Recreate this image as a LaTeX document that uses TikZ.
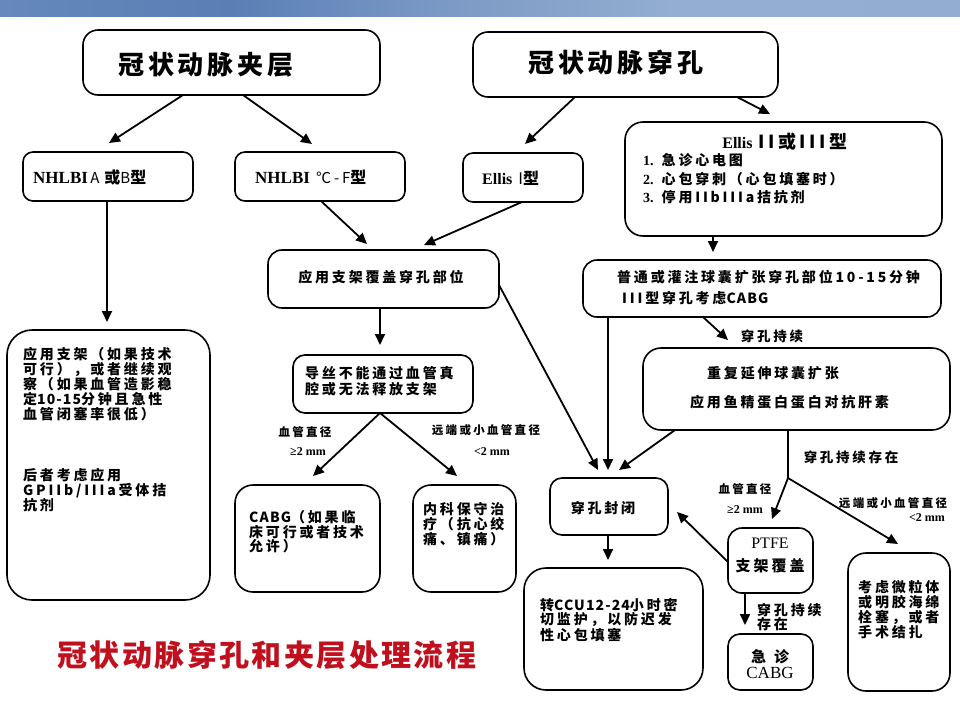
\documentclass[tikz,border=0pt]{standalone}
\usepackage{fontspec}
\usetikzlibrary{arrows.meta}
\newfontfamily\cjk[LetterSpace=20]{Noto Sans CJK SC}
\newfontfamily\cjkm[LetterSpace=15]{Noto Sans CJK SC}
\newfontfamily\cjkt[LetterSpace=8]{Noto Sans CJK SC}
\newfontfamily\ser{Liberation Serif}
\newcommand\fsz[1]{\fontsize{#1}{#1}\selectfont}
\newcommand\lt[1]{{\addfontfeature{LetterSpace=8}#1}}
\definecolor{titlered}{HTML}{C0101E}
\definecolor{bnA}{HTML}{C8D5E6}
\definecolor{bnB}{HTML}{B0C2DB}
\definecolor{bnC}{HTML}{7090BF}
\definecolor{bnD}{HTML}{5A7FB5}
\definecolor{bnE}{HTML}{7B99C5}
\definecolor{bnF}{HTML}{93AED0}
\definecolor{bnG}{HTML}{92ADD0}
\definecolor{bnH}{HTML}{85A2CA}
\pgfdeclarehorizontalshading{banner}{100bp}{color(0bp)=(bnA); color(5bp)=(bnB); color(15bp)=(bnC); color(37bp)=(bnD); color(48bp)=(bnE); color(60bp)=(bnF); color(80bp)=(bnG); color(100bp)=(bnH)}
\newcommand\mkbox[6][12]{\node[boxst, rounded corners=#1pt, minimum width={(#5-#3)*1pt}, minimum height={(#6-#4)*1pt}] (#2) at ({(#3+#5)/2},{(#4+#6)/2}) {};}
\tikzset{
  boxst/.style={draw=black, line width=1.6pt, inner sep=0pt, outer sep=0pt, fill=white},
  arr/.style={line width=1.8pt, -{Triangle[length=11pt,width=10pt]}},
  plain/.style={line width=1.8pt},
  txt/.style={inner sep=0pt, align=left, font=\cjk\bfseries\fontsize{14}{15}\selectfont},
  lab/.style={inner sep=0pt, align=left, font=\cjk\bfseries\fontsize{11.5}{12}\selectfont},
  mm/.style={inner sep=0pt, font=\ser\bfseries\fontsize{12}{12}\selectfont},
  big/.style={inner sep=0pt, font=\cjkm\bfseries\fontsize{26}{28}\selectfont}
}
\begin{document}
\begin{tikzpicture}[x=1pt,y=-1pt]
\useasboundingbox (0,0) rectangle (960,720);
\fill[white] (0,0) rectangle (960,720);
\shade[shading=banner] (0,0) rectangle (960,16);
% boxes
\mkbox[15]{B1}{83}{30}{380}{95}
\mkbox[15]{B2}{473}{32}{778}{97}
\mkbox[10]{B3}{23}{152}{193}{201}
\mkbox[10]{B4}{235}{152}{405}{201}
\mkbox[10]{B5}{463}{153}{583}{202}
\mkbox[18]{B6}{625}{122}{942}{236}
\mkbox[14]{B7}{268}{250}{499}{308}
\mkbox[14]{B8}{583}{260}{941}{317}
\mkbox[18]{B9}{643}{348}{950}{430}
\mkbox[25]{B10}{7}{330}{210}{600}
\mkbox[12]{B11}{293}{355}{473}{413}
\mkbox[18]{B12}{235}{485}{380}{592}
\mkbox[18]{B13}{413}{485}{516}{592}
\mkbox[12]{B14}{550}{478}{668}{535}
\mkbox[22]{B15}{524}{568}{703}{690}
\mkbox[14]{B16}{728}{528}{813}{593}
\mkbox[12]{B17}{728}{634}{813}{690}
\mkbox[18]{B18}{848}{553}{950}{691}
% texts
\node[big, anchor=west] (t1) at (118,65) {冠状动脉夹层};
\node[big, anchor=west] (t2) at (528,63) {冠状动脉穿孔};
\node[txt, anchor=west] (t3) at (33,177) {{\ser\bfseries\fsz{17}NHLBI}\,{\cjk\mdseries\fsz{15}A}\hspace{5pt}{\fsz{16}或}{\cjk\mdseries\fsz{15}B}{\fsz{16}型}};
\node[txt, anchor=west] (t4) at (255,177) {{\ser\bfseries\fsz{17}NHLBI} {\cjk\mdseries\fsz{15}℃-F}{\fsz{16}型}};
\node[txt, anchor=west] (t5) at (482,178) {{\ser\bfseries\fsz{16}Ellis} {\mdseries\fsz{16}I}{\fsz{16}型}};
\node[txt, anchor=center] (t6) at (785,142) {{\ser\bfseries\fsz{16}Ellis} {\fsz{18}II或III型}};
\node[txt, anchor=north west, font=\cjk\bfseries\fontsize{14}{18.5}\selectfont] (t6b) at (643,153.5) {{\ser\bfseries 1.} 急诊心电图\\{\ser\bfseries 2.} 心包穿刺（心包填塞时）\\{\ser\bfseries 3.} 停用IIbIIIa拮抗剂};
\node[txt, anchor=center] (t7) at (381,277) {应用支架覆盖穿孔部位};
\node[txt, anchor=west] (t8a) at (617,277) {普通或灌注球囊扩张穿孔部位10-15分钟};
\node[txt, anchor=west] (t8b) at (622,298) {III型穿孔考虑\lt{CABG}};
\node[txt, anchor=west] (t9a) at (707,373) {重复延伸球囊扩张};
\node[txt, anchor=west] (t9b) at (690,402) {应用鱼精蛋白蛋白对抗肝素};
\node[txt, anchor=north west] (t10a) at (23,347.5) {应用支架（如果技术\\可行），或者继续观\\察（如果血管造影稳\\定\lt{10-15}分钟且急性\\血管闭塞率很低）};
\node[txt, anchor=north west] (t10b) at (23,468.5) {后者考虑应用\\GPIIb/IIIa受体拮\\抗剂};
\node[txt, anchor=north west, font=\cjk\bfseries\fontsize{14}{16}\selectfont] (t11) at (305,366.5) {导丝不能通过血管真\\腔或无法释放支架};
\node[txt, anchor=north west, font=\cjk\bfseries\fontsize{14}{14.5}\selectfont] (t12) at (249,510.5) {\lt{CABG}（如果临\\床可行或者技术\\允许）};
\node[txt, anchor=north west] (t13) at (423,502.5) {内科保守治\\疗（抗心绞\\痛、镇痛）};
\node[txt, anchor=center] (t14) at (603,508) {穿孔封闭};
\node[txt, anchor=north west, font=\cjk\bfseries\fontsize{14}{14}\selectfont] (t15) at (540,598.5) {转\lt{CCU12-24}小时密\\切监护，以防迟发\\性心包填塞};
\node[inner sep=0pt, font=\ser\fsz{16}] (t16a) at (770,543) {PTFE};
\node[txt, anchor=center, font=\cjk\bfseries\fsz{15}] (t16b) at (770,566) {支架覆盖};
\node[txt, anchor=center, font=\cjk\bfseries\fsz{15}] (t17a) at (770,657) {急\hspace{8pt}诊};
\node[inner sep=0pt, font=\ser\fsz{17}] (t17b) at (770,673) {CABG};
\node[txt, anchor=north west] (t18) at (858,580.5) {考虑微粒体\\或明胶海绵\\栓塞，或者\\手术结扎};
% labels
\node[txt, font=\cjk\bfseries\fsz{13.5}] (l1) at (772,336) {穿孔持续};
\node[txt, font=\cjk\bfseries\fsz{13.5}] (l2) at (851,457) {穿孔持续存在};
\node[lab] (l3) at (745,489) {血管直径};
\node[mm] (l4) at (745,510) {≥2 mm};
\node[lab] (l5) at (893,503) {远端或小血管直径};
\node[mm] (l6) at (927,518) {<2 mm};
\node[lab] (l7) at (305,432) {血管直径};
\node[mm] (l8) at (308,452) {≥2 mm};
\node[lab] (l9) at (486,430) {远端或小血管直径};
\node[mm] (l10) at (492,452) {<2 mm};
\node[txt, anchor=north west, font=\cjk\bfseries\fontsize{14}{13.5}\selectfont] (l11) at (757,603.5) {穿孔持续\\存在};
\node[inner sep=0pt, text=titlered, font=\cjkt\bfseries\fsz{30}] (title) at (267,655) {冠状动脉穿孔和夹层处理流程};
% connectors
\draw[arr] ([xshift=-48.5pt]B1.south) -- ([xshift=1pt,yshift=9pt]B3.north);
\draw[arr] ([xshift=11.5pt]B1.south) -- ([xshift=-8pt,yshift=8pt]B4.north);
\draw[arr] ([xshift=-1pt]B3.south) -- ([xshift=-1.5pt,yshift=8pt]B10.north);
\draw[arr] ([xshift=1pt]B4.south) -- ([xshift=-16.5pt,yshift=6pt]B7.north);
\draw[arr] ([xshift=-1pt]B5.south) -- ([xshift=40.5pt,yshift=5pt]B7.north);
\draw[arr] ([xshift=-50.5pt]B2.south) -- ([xshift=2pt,yshift=9pt]B5.north);
\draw[arr] ([xshift=111.5pt]B2.south) -- ([xshift=-13.5pt,yshift=8pt]B6.north);
\draw[arr] ([xshift=-70.5pt]B6.south) -- ([xshift=-49pt,yshift=8pt]B8.north);
\draw[arr] ([xshift=-3.5pt]B7.south) -- ([xshift=-3pt,yshift=10pt]B11.north);
\draw[arr] ([yshift=-6pt]B7.east) -- ([xshift=-11pt,yshift=8pt]B14.north);
\draw[arr] ([xshift=-154pt]B8.south) -- ([xshift=-1pt,yshift=8pt]B14.north);
\draw[arr] ([xshift=-59pt]B8.south) -- ([xshift=-68.5pt,yshift=8pt]B9.north);
\draw[arr] ([xshift=-121.5pt]B9.south) -- ([xshift=10pt,yshift=8pt]B14.north);
\coordinate (J) at ([xshift=-8.5pt,yshift=-48pt]B9.south);
\draw[plain] ([xshift=-8.5pt]B9.south) -- (J);
\draw[arr] (J) -- ([xshift=1.5pt,yshift=9pt]B16.north);
\draw[arr] (J) -- ([xshift=-1pt,yshift=9pt]B18.north);
\draw[arr] ([xshift=-3pt]B11.south) -- ([xshift=5.5pt,yshift=9pt]B12.north);
\draw[arr] ([xshift=-3pt]B11.south) -- ([xshift=-7.5pt,yshift=9pt]B13.north);
\draw[arr] ([xshift=-1pt]B14.south) -- ([xshift=-5.5pt,yshift=8pt]B15.north);
\draw[arr] ([yshift=-1.5pt]B16.west) -- ([xshift=9pt,yshift=-5.5pt]B14.east);
\draw[arr] ([xshift=-25.5pt]B16.south) -- ([xshift=-25.5pt,yshift=9pt]B17.north);
\end{tikzpicture}
\end{document}
